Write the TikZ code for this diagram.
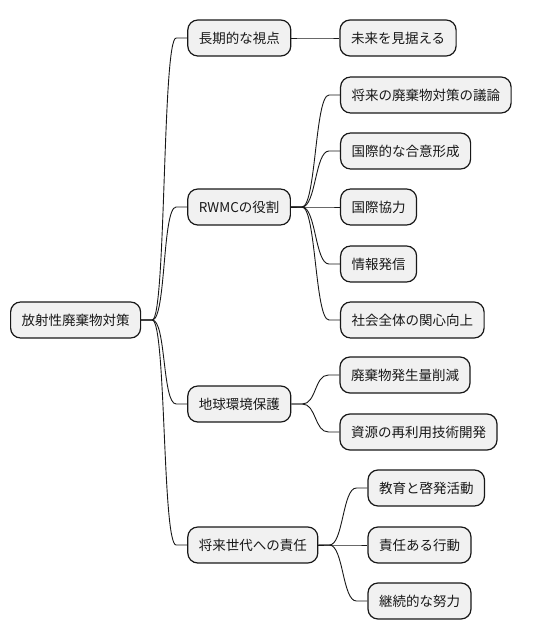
\documentclass[tikz,border=0pt]{standalone}
\usepackage{fontspec}
\setmainfont{Noto Sans CJK JP}
\usetikzlibrary{positioning,calc}
\definecolor{boxfill}{HTML}{F1F1F1}
\definecolor{boxline}{HTML}{181818}

\begin{document}
\begin{tikzpicture}[x=1pt,y=1pt,
	box/.style={line width=1.2pt, rectangle, rounded corners=10pt, draw=boxline, fill=boxfill, minimum height=36pt, inner xsep=11pt, font=\fontsize{13.5pt}{16pt}\selectfont, text=boxline},
	link/.style={draw=boxline, line width=0.9pt, to path={-- ++(11pt,0) .. controls +(14pt,0) and +(-14pt,0) .. ([xshift=-11pt]\tikztotarget) -- (\tikztotarget)}}]
	\useasboundingbox (0,0) rectangle (534,-640);
	\node [box, anchor=west] (root) at (10,-320) {放射性廃棄物対策};

	\node [box, right = 46pt of root.east, anchor=west, yshift=282pt] (t1) {長期的な視点};
	\node [box, right = 46pt of root.east, anchor=west, yshift=113pt] (t2) {RWMCの役割};
	\node [box, right = 46pt of root.east, anchor=west, yshift=-84pt] (t3) {地球環境保護};
	\node [box, right = 46pt of root.east, anchor=west, yshift=-225pt] (t4) {将来世代への責任};

	\node [box, right = 48pt of t1.east, anchor=west] (t1a) {未来を見据える};

	\node [box, right = 49pt of t2.east, anchor=west, yshift=112pt] (t2a) {将来の廃棄物対策の議論};
	\node [box, right = 49pt of t2.east, anchor=west, yshift=56pt] (t2b) {国際的な合意形成};
	\node [box, right = 49pt of t2.east, anchor=west] (t2c) {国際協力};
	\node [box, right = 49pt of t2.east, anchor=west, yshift=-57pt] (t2d) {情報発信};
	\node [box, right = 49pt of t2.east, anchor=west, yshift=-113pt] (t2e) {社会全体の関心向上};

	\node [box, right = 48pt of t3.east, anchor=west, yshift=29pt] (t3a) {廃棄物発生量削減};
	\node [box, right = 48pt of t3.east, anchor=west, yshift=-28pt] (t3b) {資源の再利用技術開発};

	\node [box, right = 49pt of t4.east, anchor=west, yshift=57pt] (t4a) {教育と啓発活動};
	\node [box, right = 49pt of t4.east, anchor=west] (t4b) {責任ある行動};
	\node [box, right = 49pt of t4.east, anchor=west, yshift=-56pt] (t4c) {継続的な努力};

	\foreach \t in {t1,t2,t3,t4}
		\draw [link] (root.east) to (\t.west);
	\draw [link] (t1.east) to (t1a.west);
	\foreach \t in {t2a,t2b,t2c,t2d,t2e}
		\draw [link] (t2.east) to (\t.west);
	\foreach \t in {t3a,t3b}
		\draw [link] (t3.east) to (\t.west);
	\foreach \t in {t4a,t4b,t4c}
		\draw [link] (t4.east) to (\t.west);
\end{tikzpicture}
\end{document}
